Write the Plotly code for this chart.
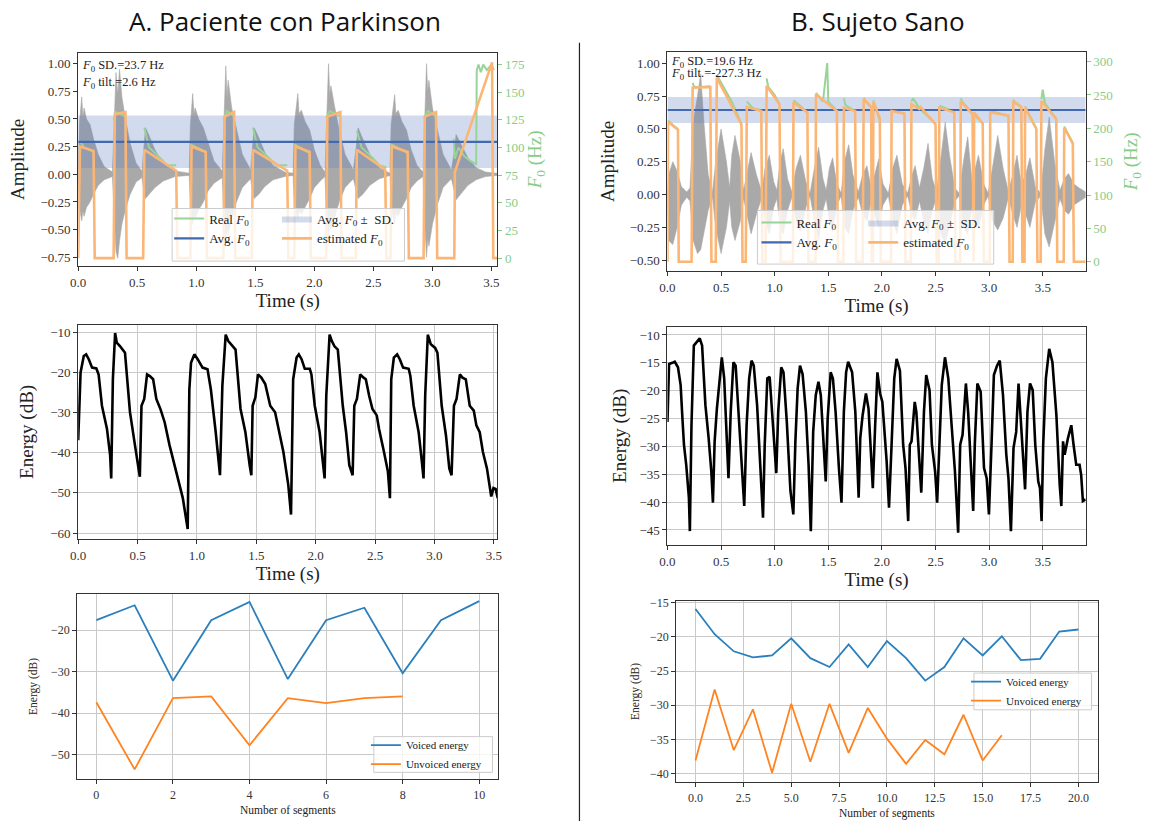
import plotly.graph_objects as go

W, H = 1149, 822
SERIF = "Liberation Serif, DejaVu Serif, serif"
SANS = "Open Sans, Noto Sans, sans-serif"

# ---------------- A. Parkinson patient ----------------
# waveform envelope (time s, upper / lower amplitude)
wave_a_t = [0.00, 0.01, 0.03, 0.04, 0.05, 0.07, 0.10, 0.13, 0.17, 0.22, 0.29,
            0.30, 0.32, 0.335, 0.35, 0.37, 0.40, 0.44, 0.49, 0.54,
            0.555, 0.57, 0.60, 0.65, 0.72, 0.82, 0.94,
            0.95, 0.97, 0.98, 0.99, 1.02, 1.06, 1.10, 1.15, 1.22,
            1.23, 1.25, 1.26, 1.27, 1.30, 1.34, 1.39, 1.46,
            1.475, 1.49, 1.53, 1.58, 1.65, 1.75, 1.82,
            1.83, 1.86, 1.87, 1.89, 1.92, 1.96, 2.00, 2.05, 2.09,
            2.10, 2.12, 2.13, 2.14, 2.17, 2.21, 2.26, 2.33,
            2.355, 2.37, 2.41, 2.47, 2.55, 2.64,
            2.65, 2.68, 2.69, 2.71, 2.74, 2.78, 2.82, 2.87, 2.92,
            2.93, 2.95, 2.96, 2.97, 3.00, 3.04, 3.09, 3.16,
            3.185, 3.20, 3.24, 3.30, 3.37, 3.45, 3.55]
wave_a_up = [0.0, 0.45, 0.70, 0.52, 0.60, 0.50, 0.45, 0.32, 0.18, 0.07, 0.02,
             0.30, 0.92, 0.72, 0.95, 0.70, 0.50, 0.28, 0.10, 0.03,
             0.25, 0.42, 0.35, 0.22, 0.10, 0.03, 0.01,
             0.45, 0.73, 0.55, 0.60, 0.50, 0.42, 0.28, 0.12, 0.03,
             0.35, 0.98, 0.70, 0.85, 0.60, 0.40, 0.18, 0.04,
             0.25, 0.42, 0.33, 0.20, 0.08, 0.02, 0.01,
             0.45, 0.73, 0.55, 0.58, 0.48, 0.40, 0.22, 0.08, 0.02,
             0.35, 1.00, 0.72, 0.80, 0.62, 0.40, 0.18, 0.04,
             0.25, 0.42, 0.32, 0.18, 0.06, 0.01,
             0.45, 0.72, 0.55, 0.58, 0.48, 0.40, 0.22, 0.08, 0.02,
             0.35, 1.00, 0.75, 0.85, 0.60, 0.40, 0.18, 0.04,
             0.20, 0.36, 0.28, 0.15, 0.06, 0.02, 0.01]
wave_a_lo = [0.0, -0.30, -0.42, -0.33, -0.38, -0.30, -0.25, -0.18, -0.10, -0.05, -0.02,
             -0.30, -0.70, -0.76, -0.60, -0.45, -0.32, -0.18, -0.07, -0.03,
             -0.15, -0.22, -0.18, -0.12, -0.06, -0.02, -0.01,
             -0.30, -0.45, -0.36, -0.40, -0.32, -0.25, -0.15, -0.08, -0.03,
             -0.30, -0.62, -0.48, -0.55, -0.40, -0.25, -0.12, -0.04,
             -0.15, -0.22, -0.18, -0.11, -0.05, -0.02, -0.01,
             -0.30, -0.40, -0.33, -0.36, -0.30, -0.22, -0.12, -0.06, -0.02,
             -0.30, -0.55, -0.44, -0.50, -0.40, -0.25, -0.12, -0.04,
             -0.15, -0.22, -0.18, -0.10, -0.04, -0.01,
             -0.30, -0.45, -0.35, -0.38, -0.30, -0.22, -0.12, -0.06, -0.02,
             -0.35, -0.75, -0.58, -0.65, -0.45, -0.28, -0.12, -0.04,
             -0.15, -0.23, -0.18, -0.10, -0.05, -0.02, -0.01]

real_a_t = [0.02, 0.05, 0.13, None, 0.30, 0.32, 0.40, None,
            0.56, 0.60, 0.70, 0.75, 0.83, None, 0.95, 1.00, 1.08, None,
            1.23, 1.26, 1.32, None, 1.48, 1.52, 1.62, 1.68, 1.77, None,
            1.83, 1.88, 1.96, None, 2.10, 2.13, 2.22, None,
            2.36, 2.40, 2.50, 2.55, 2.61, None, 2.65, 2.70, 2.79, None,
            2.93, 2.96, 3.03, None,
            3.18, 3.19, 3.22, 3.27, 3.32, 3.37, 3.375, 3.39, 3.41, 3.43, 3.46, 3.50, 3.52]
real_a_f = [105, 100, 96, None, 125, 132, 128, None,
            118, 100, 90, 84, 84, None, 103, 100, 96, None,
            125, 133, 128, None, 118, 100, 90, 84, 84, None,
            103, 100, 95, None, 127, 133, 128, None,
            115, 100, 90, 84, 82, None, 103, 100, 95, None,
            127, 133, 128, None,
            108, 90, 100, 92, 88, 85, 170, 175, 168, 175, 170, 175, 170]

est_a_t = [0, 0.015, 0.13, 0.14, 0.30, 0.31, 0.40, 0.41, 0.55, 0.56, 0.83, 0.84,
           0.95, 0.96, 1.08, 1.09, 1.23, 1.24, 1.32, 1.33, 1.47, 1.48, 1.77, 1.78,
           1.83, 1.84, 1.96, 1.97, 2.10, 2.11, 2.22, 2.23, 2.35, 2.36, 2.60, 2.61,
           2.645, 2.655, 2.79, 2.80, 2.925, 2.935, 3.03, 3.04, 3.185, 3.19, 3.505, 3.515, 3.55]
est_a_f = [0, 101, 97, 0, 0, 130, 132, 0, 0, 98, 79, 0,
           0, 101, 96, 0, 0, 128, 132, 0, 0, 98, 79, 0,
           0, 101, 96, 0, 0, 128, 132, 0, 0, 98, 80, 0,
           0, 101, 96, 0, 0, 128, 132, 0, 0, 78, 177, 0, 0]

avg_f0_a, sd_f0_a, tilt_a = 105.2, 23.7, 2.6

en_a_t = [0.0, 0.02, 0.047, 0.067, 0.089, 0.117, 0.153, 0.172, 0.2, 0.242,
          0.269, 0.278, 0.292, 0.311, 0.325, 0.353, 0.394, 0.436, 0.478, 0.519,
          0.533, 0.556, 0.58, 0.603, 0.631, 0.658, 0.692, 0.728, 0.769, 0.825,
          0.881, 0.922, 0.936, 0.95, 0.978, 1.006, 1.047, 1.089, 1.117, 1.158,
          1.194, 1.214, 1.242, 1.264, 1.297, 1.325, 1.367, 1.408, 1.444, 1.458,
          1.469, 1.492, 1.514, 1.542, 1.575, 1.617, 1.658, 1.686, 1.728, 1.769,
          1.792, 1.81, 1.839, 1.858, 1.881, 1.908, 1.95, 1.964, 1.992, 2.033,
          2.061, 2.075, 2.089, 2.117, 2.136, 2.158, 2.186, 2.228, 2.256, 2.283,
          2.311, 2.325, 2.347, 2.375, 2.403, 2.422, 2.45, 2.478, 2.514, 2.533,
          2.575, 2.608, 2.625, 2.636, 2.658, 2.686, 2.708, 2.736, 2.783, 2.797,
          2.825, 2.867, 2.894, 2.908, 2.922, 2.944, 2.969, 3.006, 3.025, 3.061,
          3.097, 3.125, 3.144, 3.164, 3.186, 3.214, 3.236, 3.264, 3.297, 3.331,
          3.353, 3.381, 3.408, 3.442, 3.478, 3.497, 3.515, 3.533]
en_a_db = [-36.9, -20, -15.9, -15.5, -16.7, -18.8, -19, -20.5, -28.3, -34,
           -40.6, -46.4, -21.7, -10.2, -12.6, -13.5, -15.1, -29.9, -38.1, -46,
           -28.3, -26.6, -20.5, -20.9, -21.7, -26.6, -29.1, -32.4, -38.1, -44.7,
           -51.3, -59, -24.2, -17.6, -15.5, -16.7, -18.8, -19.2, -24.2, -34.9,
           -45.6, -23.3, -10.6, -12.2, -13.5, -14.3, -29.1, -34.9, -43.1, -45.6,
           -28.3, -26.2, -20.5, -21.3, -22.9, -28.3, -29.9, -34, -39.8, -48,
           -55.4, -21.7, -16.3, -15.5, -16.7, -19.1, -19.1, -20.5, -28.3, -34.9,
           -42.3, -46.4, -25.8, -10.6, -12.2, -13.5, -14.3, -28.3, -34.9, -43.1,
           -45.6, -28.3, -26.6, -20.5, -21.3, -21.7, -25.8, -29.1, -30.7, -34,
           -39.8, -44.7, -51.3, -21.7, -16.3, -15.5, -16.7, -18.8, -19.1, -20.9,
           -28.3, -34.9, -42.3, -46.4, -25.8, -10.6, -13, -13.9, -15.1, -28.3,
           -35.7, -43.9, -45.6, -28.3, -26.6, -20.5, -21.3, -21.7, -28.3, -29.5,
           -33.2, -34.9, -39.8, -43.9, -50.9, -48.8, -49, -51.3]

voiced_a = [-17.6, -14, -32.2, -17.6, -13.2, -31.8, -17.6, -14.6, -30.4, -17.6, -13]
unvoiced_a = [-37.4, -53.6, -36.4, -36, -47.8, -36.4, -37.6, -36.4, -36]

# ---------------- B. Healthy subject ----------------
wave_b_t = [0.00, 0.01, 0.05, 0.09, 0.13, 0.18,
            0.21, 0.24, 0.28, 0.31, 0.34, 0.38, 0.42,
            0.45, 0.50, 0.55, 0.58,
            0.60, 0.63, 0.68, 0.71,
            0.74, 0.78, 0.83, 0.88,
            0.91, 0.95, 0.99, 1.02,
            1.05, 1.08, 1.12, 1.16,
            1.20, 1.24, 1.29, 1.33,
            1.37, 1.41, 1.45, 1.48,
            1.51, 1.54, 1.58, 1.62,
            1.65, 1.69, 1.73, 1.78,
            1.82, 1.86, 1.90,
            1.93, 1.97, 2.01, 2.06,
            2.10, 2.14, 2.19, 2.24,
            2.28, 2.31, 2.35,
            2.39, 2.43, 2.47, 2.51,
            2.55, 2.59, 2.63, 2.68, 2.72,
            2.76, 2.80, 2.84,
            2.87, 2.90, 2.95, 2.99,
            3.03, 3.08, 3.13, 3.18,
            3.22, 3.26, 3.30,
            3.34, 3.38, 3.43, 3.48,
            3.52, 3.56, 3.61, 3.66,
            3.70, 3.74, 3.79, 3.84, 3.90]
wave_b_up = [0.0, 0.15, 0.25, 0.18, 0.06, 0.02,
             0.05, 0.55, 0.75, 0.92, 0.55, 0.15, 0.02,
             0.25, 0.50, 0.25, 0.05,
             0.30, 0.45, 0.25, 0.03,
             0.15, 0.32, 0.15, 0.02,
             0.20, 0.30, 0.10, 0.03,
             0.25, 0.35, 0.12, 0.02,
             0.20, 0.30, 0.10, 0.01,
             0.20, 0.36, 0.12, 0.03,
             0.20, 0.28, 0.08, 0.01,
             0.25, 0.38, 0.15, 0.02,
             0.15, 0.22, 0.05,
             0.15, 0.27, 0.08, 0.01,
             0.20, 0.30, 0.08, 0.01,
             0.15, 0.22, 0.05,
             0.20, 0.39, 0.12, 0.02,
             0.30, 0.55, 0.30, 0.05, 0.01,
             0.25, 0.44, 0.10,
             0.20, 0.30, 0.08, 0.01,
             0.20, 0.45, 0.20, 0.02,
             0.15, 0.30, 0.08,
             0.15, 0.28, 0.06, 0.01,
             0.35, 0.59, 0.25, 0.03,
             0.12, 0.16, 0.08, 0.05, 0.02]
wave_b_lo = [0.0, -0.35, -0.38, -0.25, -0.08, -0.02,
             -0.05, -0.35, -0.45, -0.42, -0.30, -0.12, -0.02,
             -0.25, -0.45, -0.25, -0.05,
             -0.25, -0.35, -0.20, -0.03,
             -0.15, -0.30, -0.15, -0.02,
             -0.20, -0.30, -0.10, -0.03,
             -0.25, -0.30, -0.12, -0.02,
             -0.20, -0.28, -0.10, -0.01,
             -0.20, -0.35, -0.12, -0.03,
             -0.20, -0.28, -0.08, -0.01,
             -0.25, -0.30, -0.12, -0.02,
             -0.15, -0.20, -0.05,
             -0.15, -0.25, -0.08, -0.01,
             -0.20, -0.30, -0.08, -0.01,
             -0.15, -0.20, -0.05,
             -0.20, -0.30, -0.12, -0.02,
             -0.30, -0.37, -0.25, -0.05, -0.01,
             -0.25, -0.30, -0.10,
             -0.20, -0.25, -0.08, -0.01,
             -0.20, -0.27, -0.18, -0.02,
             -0.15, -0.25, -0.08,
             -0.15, -0.25, -0.06, -0.01,
             -0.30, -0.40, -0.22, -0.03,
             -0.12, -0.15, -0.08, -0.05, -0.02]

real_b_t = [0.006, 0.05, 0.098, None, 0.235, 0.25, 0.30, 0.40, None,
            0.46, 0.50, 0.60, 0.69, None, 0.74, 0.80, 0.875, None,
            0.925, 0.94, 1.0, 1.045, None, 1.175, 1.25, 1.305, None,
            1.385, 1.45, 1.49, 1.50, 1.58, None, 1.645, 1.66, 1.75, None,
            1.83, 1.86, 1.90, None, 1.92, 1.98, None, 2.09, 2.21, None,
            2.275, 2.29, 2.35, 2.50, None, 2.535, 2.675, None,
            2.735, 2.75, 2.845, 2.94, None, 3.01, 3.18, None,
            3.225, 3.24, 3.30, None, 3.335, 3.44, None,
            3.487, 3.50, 3.52, 3.626, None, 3.70, 3.78]
real_b_f = [212, 205, 199, None, 268, 262, 262, 263, None,
            280, 268, 240, 207, None, 240, 230, 227, None,
            275, 262, 250, 236, None, 242, 232, 223, None,
            253, 240, 298, 240, 227, None, 245, 235, 226, None,
            246, 238, 232, None, 242, 212, None, 228, 222, None,
            240, 245, 230, 207, None, 234, 225, None,
            245, 240, 222, 208, None, 226, 219, None,
            243, 238, 232, None, 233, 200, None,
            244, 258, 238, 214, None, 203, 178]

est_b_t = [0, 0.006, 0.098, 0.105,
           0.225, 0.235, 0.40, 0.41,
           0.45, 0.46, 0.69, 0.70,
           0.73, 0.74, 0.875, 0.885,
           0.915, 0.925, 1.045, 1.055,
           1.17, 1.175, 1.305, 1.315,
           1.38, 1.385, 1.58, 1.59,
           1.64, 1.645, 1.75, 1.76,
           1.82, 1.83, 1.90, 1.905,
           1.915, 1.92, 1.98, 1.99,
           2.085, 2.09, 2.21, 2.22,
           2.27, 2.275, 2.35, 2.36, 2.50, 2.51,
           2.53, 2.535, 2.675, 2.685,
           2.73, 2.735, 2.845, 2.85,
           2.855, 2.86, 2.94, 2.95,
           3.005, 3.01, 3.18, 3.19,
           3.22, 3.225, 3.30, 3.31,
           3.33, 3.335, 3.44, 3.45,
           3.48, 3.487, 3.626, 3.635,
           3.695, 3.70, 3.78, 3.79, 3.90]
est_b_f = [0, 210, 198, 0,
           0, 261, 262, 0,
           0, 276, 206, 0,
           0, 232, 226, 0,
           0, 264, 236, 0,
           0, 239, 224, 0,
           0, 251, 226, 0,
           0, 231, 226, 0,
           0, 244, 232, 0,
           0, 240, 215, 0,
           0, 226, 222, 0,
           0, 236, 229, 232, 206, 0,
           0, 231, 224, 0,
           0, 241, 221, 0,
           0, 224, 207, 0,
           0, 224, 219, 0,
           0, 241, 232, 0,
           0, 231, 199, 0,
           0, 241, 214, 0,
           0, 201, 177, 0, 0]

avg_f0_b, sd_f0_b, tilt_b = 227.5, 19.6, -227.3

en_b_t = [0, 0.015, 0.046, 0.068, 0.098, 0.123, 0.138, 0.154, 0.175, 0.2,
          0.209, 0.224, 0.246, 0.27, 0.301, 0.323, 0.354, 0.384, 0.409, 0.424,
          0.44, 0.461, 0.486, 0.507, 0.529, 0.553, 0.569, 0.59, 0.615, 0.636,
          0.661, 0.692, 0.716, 0.738, 0.762, 0.784, 0.805, 0.836, 0.867, 0.891,
          0.907, 0.931, 0.953, 0.978, 1.0, 1.015, 1.033, 1.061, 1.082, 1.113,
          1.147, 1.174, 1.193, 1.214, 1.236, 1.26, 1.291, 1.316, 1.337, 1.359,
          1.383, 1.408, 1.43, 1.454, 1.476, 1.494, 1.522, 1.543, 1.568, 1.599,
          1.623, 1.645, 1.666, 1.685, 1.722, 1.752, 1.783, 1.798, 1.82, 1.851,
          1.875, 1.9, 1.915, 1.937, 1.958, 1.983, 2.004, 2.044, 2.066, 2.09,
          2.115, 2.137, 2.168, 2.198, 2.22, 2.245, 2.26, 2.276, 2.306, 2.321,
          2.346, 2.367, 2.392, 2.413, 2.444, 2.466, 2.496, 2.515, 2.536, 2.558,
          2.588, 2.619, 2.65, 2.681, 2.711, 2.73, 2.752, 2.783, 2.804, 2.832,
          2.851, 2.866, 2.89, 2.921, 2.952, 2.977, 2.998, 3.022, 3.044, 3.074,
          3.099, 3.129, 3.16, 3.18, 3.203, 3.227, 3.252, 3.274, 3.295, 3.32,
          3.335, 3.357, 3.381, 3.406, 3.43, 3.458, 3.474, 3.489, 3.504, 3.529,
          3.56, 3.59, 3.627, 3.658, 3.673, 3.689, 3.704, 3.735, 3.766, 3.787,
          3.812, 3.843, 3.858, 3.874, 3.9]
en_b_db = [-25.6, -15.2, -15, -14.8, -15.8, -19, -24.4, -29.7, -33.3, -39.2,
           -45.2, -26.2, -11.9, -11.3, -10.6, -11.9, -22.6, -28.5, -34.5, -40.1,
           -29.1, -23.2, -17.8, -14, -17.8, -29.1, -35.7, -23.8, -14.9, -15.5,
           -23.8, -32.7, -40.7, -26.2, -17.8, -14.6, -15.5, -22.6, -33.3, -42.8,
           -29.7, -17.8, -17.5, -25, -32.1, -34.8, -23.8, -15.8, -16.7, -25.6,
           -38, -42.2, -29.1, -19.6, -15.5, -17, -23.8, -33.3, -45.2, -27.4,
           -20.8, -18.4, -20.8, -29.7, -36.3, -25, -16.7, -17.8, -23.8, -33.9,
           -40.1, -23.8, -16.7, -14.8, -16.7, -23.8, -39.2, -28.5, -24.4, -20.5,
           -23.2, -32.1, -37.5, -26.2, -16.7, -20.5, -22, -32.7, -41, -29.7,
           -17.8, -14.3, -16.4, -29.7, -33.9, -43.4, -29.7, -29.1, -22, -23.8,
           -30.9, -38.3, -23.8, -17.2, -19.9, -29.7, -34.5, -40.1, -29.7, -19,
           -14, -17.8, -26.2, -34.5, -45.5, -29.7, -27.9, -18.7, -23.8, -33.9,
           -41.6, -29.7, -18.7, -20.2, -33.9, -35.7, -42.2, -29.7, -17.2, -15.5,
           -14.6, -20.8, -31.5, -35.7, -45.2, -30.3, -27.4, -18.7, -25.6, -32.7,
           -37.7, -23.8, -18.7, -19.9, -29.7, -36.3, -37.5, -43.4, -29.7, -17.8,
           -12.5, -14.9, -24.4, -36.9, -40.7, -29.1, -31.5, -28.5, -26.2, -29.7,
           -33.3, -33.3, -35.1, -39.8, -39.5]

voiced_b = [-15.9, -19.6, -22.1, -23, -22.7, -20.2, -23.1, -24.4, -21.1, -24.4, -20.6,
            -23.1, -26.4, -24.4, -20.2, -22.7, -19.9, -23.4, -23.2, -19.2, -18.9]
unvoiced_b = [-38.1, -27.7, -36.6, -30.6, -39.9, -29.8, -38.3, -29.8, -37, -30.4,
              -34.9, -38.6, -35.1, -37.2, -31.4, -38.1, -34.4]

# ---------------- styling ----------------
C_WAVE = "#a9a9a9"
C_REAL = "#98d498"
C_EST = "#fbb676"
C_AVG = "#4169b0"
C_BAND = "rgba(90,125,190,0.28)"
C_GREEN_AX = "#86cc86"
C_VOICED = "#2a7fbc"
C_UNVOICED = "#ff8320"

F0 = "<i>F</i><sub>0</sub>"
TITLE_SIZE = 19


def px(x):
    return x / W


def py(y):
    return 1 - y / H


def add_top(fig, xa, ya, ya2, t, up, lo, rt, rf, et, ef, avg, sd, t_end, lg1, lg2):
    fig.add_trace(go.Scatter(x=t + t[::-1], y=up + lo[::-1], fill="toself",
                             fillcolor=C_WAVE, line=dict(color=C_WAVE, width=0.6),
                             mode="lines", showlegend=False, hoverinfo="skip",
                             xaxis=xa, yaxis=ya))
    fig.add_trace(go.Scatter(x=[0, t_end, t_end, 0],
                             y=[avg - sd, avg - sd, avg + sd, avg + sd],
                             fill="toself", fillcolor=C_BAND, line=dict(width=0),
                             mode="lines", name=f"Avg. {F0} \u00b1  SD.",
                             legend=lg2, legendgroup=lg2 + "a", xaxis=xa, yaxis=ya2))
    fig.add_trace(go.Scatter(x=rt, y=rf, mode="lines", line=dict(color=C_REAL, width=2),
                             name=f"Real {F0}", legend=lg1, legendgroup=lg1 + "a",
                             xaxis=xa, yaxis=ya2))
    fig.add_trace(go.Scatter(x=[0, t_end], y=[avg, avg], mode="lines",
                             line=dict(color=C_AVG, width=2.2), name=f"Avg. {F0}",
                             legend=lg1, legendgroup=lg1 + "b", xaxis=xa, yaxis=ya2))
    fig.add_trace(go.Scatter(x=et, y=ef, mode="lines", line=dict(color=C_EST, width=2.6),
                             name=f"estimated {F0}", legend=lg2, legendgroup=lg2 + "b",
                             xaxis=xa, yaxis=ya2))


fig = go.Figure()

add_top(fig, "x", "y", "y2", wave_a_t, wave_a_up, wave_a_lo, real_a_t, real_a_f,
        est_a_t, est_a_f, avg_f0_a, sd_f0_a, 3.55, "legend", "legend2")
add_top(fig, "x2", "y3", "y4", wave_b_t, wave_b_up, wave_b_lo, real_b_t, real_b_f,
        est_b_t, est_b_f, avg_f0_b, sd_f0_b, 3.90, "legend3", "legend4")

fig.add_trace(go.Scatter(x=en_a_t, y=en_a_db, mode="lines", line=dict(color="black", width=2.6),
                         showlegend=False, xaxis="x3", yaxis="y5"))
fig.add_trace(go.Scatter(x=en_b_t, y=en_b_db, mode="lines", line=dict(color="black", width=2.6),
                         showlegend=False, xaxis="x4", yaxis="y6"))

fig.add_trace(go.Scatter(x=list(range(len(voiced_a))), y=voiced_a, mode="lines",
                         line=dict(color=C_VOICED, width=1.8), name="Voiced energy",
                         legend="legend5", xaxis="x5", yaxis="y7"))
fig.add_trace(go.Scatter(x=list(range(len(unvoiced_a))), y=unvoiced_a, mode="lines",
                         line=dict(color=C_UNVOICED, width=1.8), name="Unvoiced energy",
                         legend="legend5", xaxis="x5", yaxis="y7"))
fig.add_trace(go.Scatter(x=list(range(len(voiced_b))), y=voiced_b, mode="lines",
                         line=dict(color=C_VOICED, width=1.8), name="Voiced energy",
                         legend="legend6", xaxis="x6", yaxis="y8"))
fig.add_trace(go.Scatter(x=list(range(len(unvoiced_b))), y=unvoiced_b, mode="lines",
                         line=dict(color=C_UNVOICED, width=1.8), name="Unvoiced energy",
                         legend="legend6", xaxis="x6", yaxis="y8"))


def axis(domain, rng, anchor, size=13, grid=False, **kw):
    d = dict(domain=domain, range=rng, anchor=anchor, showline=True, linecolor="#333",
             linewidth=1.2, mirror=True, ticks="outside", ticklen=4, tickwidth=1,
             tickcolor="#333", tickfont=dict(family=SERIF, size=size, color="#333"),
             showgrid=grid, gridcolor="#c9c9c9", gridwidth=1, zeroline=False)
    d.update(kw)
    return d


def title(text, size=TITLE_SIZE, standoff=8, color="#222"):
    return dict(text=text, font=dict(family=SERIF, size=size, color=color), standoff=standoff)


def f0_axis(domain, rng, overlay, anchor, dtick, standoff):
    return dict(domain=domain, range=rng, overlaying=overlay, anchor=anchor, side="right",
                showline=False, ticks="outside", ticklen=4, tickcolor=C_GREEN_AX,
                tickfont=dict(family=SERIF, size=13, color=C_GREEN_AX), dtick=dtick,
                tick0=0, showgrid=False, zeroline=False,
                title=title(f"{F0} (Hz)", color=C_GREEN_AX, standoff=standoff))


# pixel boxes of the six panels
A1 = ([px(71), px(495)], [py(263), py(48)])
B1 = ([px(667), px(1090)], [py(268), py(47)])
A2 = ([px(71), px(495)], [py(538), py(322)])
B2 = ([px(667), px(1090)], [py(544), py(324)])
A3 = ([px(70), px(496)], [py(780), py(593)])
B3 = ([px(676), px(1102)], [py(783), py(600)])

layout = dict(
    width=W, height=H, margin=dict(l=0, r=0, t=0, b=0),
    paper_bgcolor="white", plot_bgcolor="white", showlegend=True,
    xaxis=axis(A1[0], [0, 3.55], "y", dtick=0.5, tickformat=".1f",
               title=title("Time (s)", standoff=2)),
    yaxis=axis(A1[1], [-0.83, 1.10], "x", tickvals=[-0.75, -0.5, -0.25, 0, 0.25, 0.5, 0.75, 1.0],
               tickformat=".2f", title=title("Amplitude", standoff=10)),
    yaxis2=f0_axis(A1[1], [-7.2, 185.8], "y", "x", 25, 4),
    xaxis2=axis(B1[0], [0, 3.90], "y3", dtick=0.5, tickformat=".1f",
                title=title("Time (s)", standoff=0)),
    yaxis3=axis(B1[1], [-0.583, 1.089], "x2", tickvals=[-0.5, -0.25, 0, 0.25, 0.5, 0.75, 1.0],
                tickformat=".2f", title=title("Amplitude", standoff=10)),
    yaxis4=f0_axis(B1[1], [-14, 315], "y3", "x2", 50, 11),
    xaxis3=axis(A2[0], [0, 3.53], "y5", grid=True, dtick=0.5, tickformat=".1f",
                title=title("Time (s)", standoff=3)),
    yaxis5=axis(A2[1], [-61.5, -8.1], "x3", grid=True, dtick=10, tick0=0,
                title=title("Energy (dB)", standoff=11)),
    xaxis4=axis(B2[0], [0, 3.90], "y6", grid=True, dtick=0.5, tickformat=".1f",
                title=title("Time (s)", standoff=3)),
    yaxis6=axis(B2[1], [-47.7, -8.5], "x4", grid=True, dtick=5, tick0=0,
                title=title("Energy (dB)", standoff=7)),
    xaxis5=axis(A3[0], [-0.5, 10.5], "y7", size=12, grid=True, dtick=2, tick0=0,
                title=title("Number of segments", size=11.5, standoff=5)),
    yaxis7=axis(A3[1], [-56, -11.2], "x5", size=12, grid=True, dtick=10, tick0=0,
                title=title("Energy (dB)", size=11.5, standoff=10)),
    xaxis6=axis(B3[0], [-1, 21], "y8", size=12, grid=True, dtick=2.5, tick0=0,
                tickformat=".1f", title=title("Number of segments", size=11.5, standoff=5)),
    yaxis8=axis(B3[1], [-41.3, -14.67], "x6", size=12, grid=True, dtick=5, tick0=0,
                title=title("Energy (dB)", size=11.5, standoff=8)),
)


def legend(x, y, size=13, gap=4):
    return dict(x=px(x), y=py(y), xanchor="left", yanchor="top", bgcolor="rgba(0,0,0,0)",
                borderwidth=0, font=dict(family=SERIF, size=size, color="#222"),
                tracegroupgap=gap, itemwidth=30, traceorder="normal")


layout["legend"] = legend(163, 200, gap=10)
layout["legend2"] = legend(272, 200, gap=10)
layout["legend3"] = legend(757, 204, gap=9)
layout["legend4"] = legend(865, 204, gap=9)
layout["legend5"] = legend(362, 731, size=11, gap=0)
layout["legend6"] = legend(969, 667, size=11, gap=0)

fig.update_layout(**layout)

box = dict(type="rect", xref="paper", yref="paper", layer="above",
           line=dict(color="#cccccc", width=1), fillcolor="rgba(255,255,255,0.8)")
for x0, y0, x1, y1 in [(166, 205, 401, 258), (758, 207, 997, 261),
                       (370, 737, 490, 773), (977, 673, 1096, 710)]:
    fig.add_shape(x0=px(x0), x1=px(x1), y0=py(y1), y1=py(y0), **box)

# divider between the two columns
fig.add_shape(type="line", xref="paper", yref="paper", x0=px(578), x1=px(578),
              y0=py(822), y1=py(38), line=dict(color="#222", width=1.2))

notes = [
    ("A. Paciente con Parkinson", 280, 16, SANS, 26, "#111", "center"),
    ("B. Sujeto Sano", 880, 16, SANS, 26, "#111", "center"),
    (f"{F0} SD.={sd_f0_a} Hz", 73, 61, SERIF, 12.5, "#222", "left"),
    (f"{F0} tilt.={tilt_a} Hz", 73, 79, SERIF, 12.5, "#222", "left"),
    (f"{F0} SD.={sd_f0_b} Hz", 669, 57, SERIF, 12.5, "#222", "left"),
    (f"{F0} tilt.={tilt_b} Hz", 669, 70, SERIF, 12.5, "#222", "left"),
]
for text, x, y, fam, size, color, anchor in notes:
    fig.add_annotation(text=text, x=px(x), y=py(y), xref="paper", yref="paper",
                       xanchor=anchor, yanchor="middle", showarrow=False,
                       font=dict(family=fam, size=size, color=color))

fig.write_html("out.html")
